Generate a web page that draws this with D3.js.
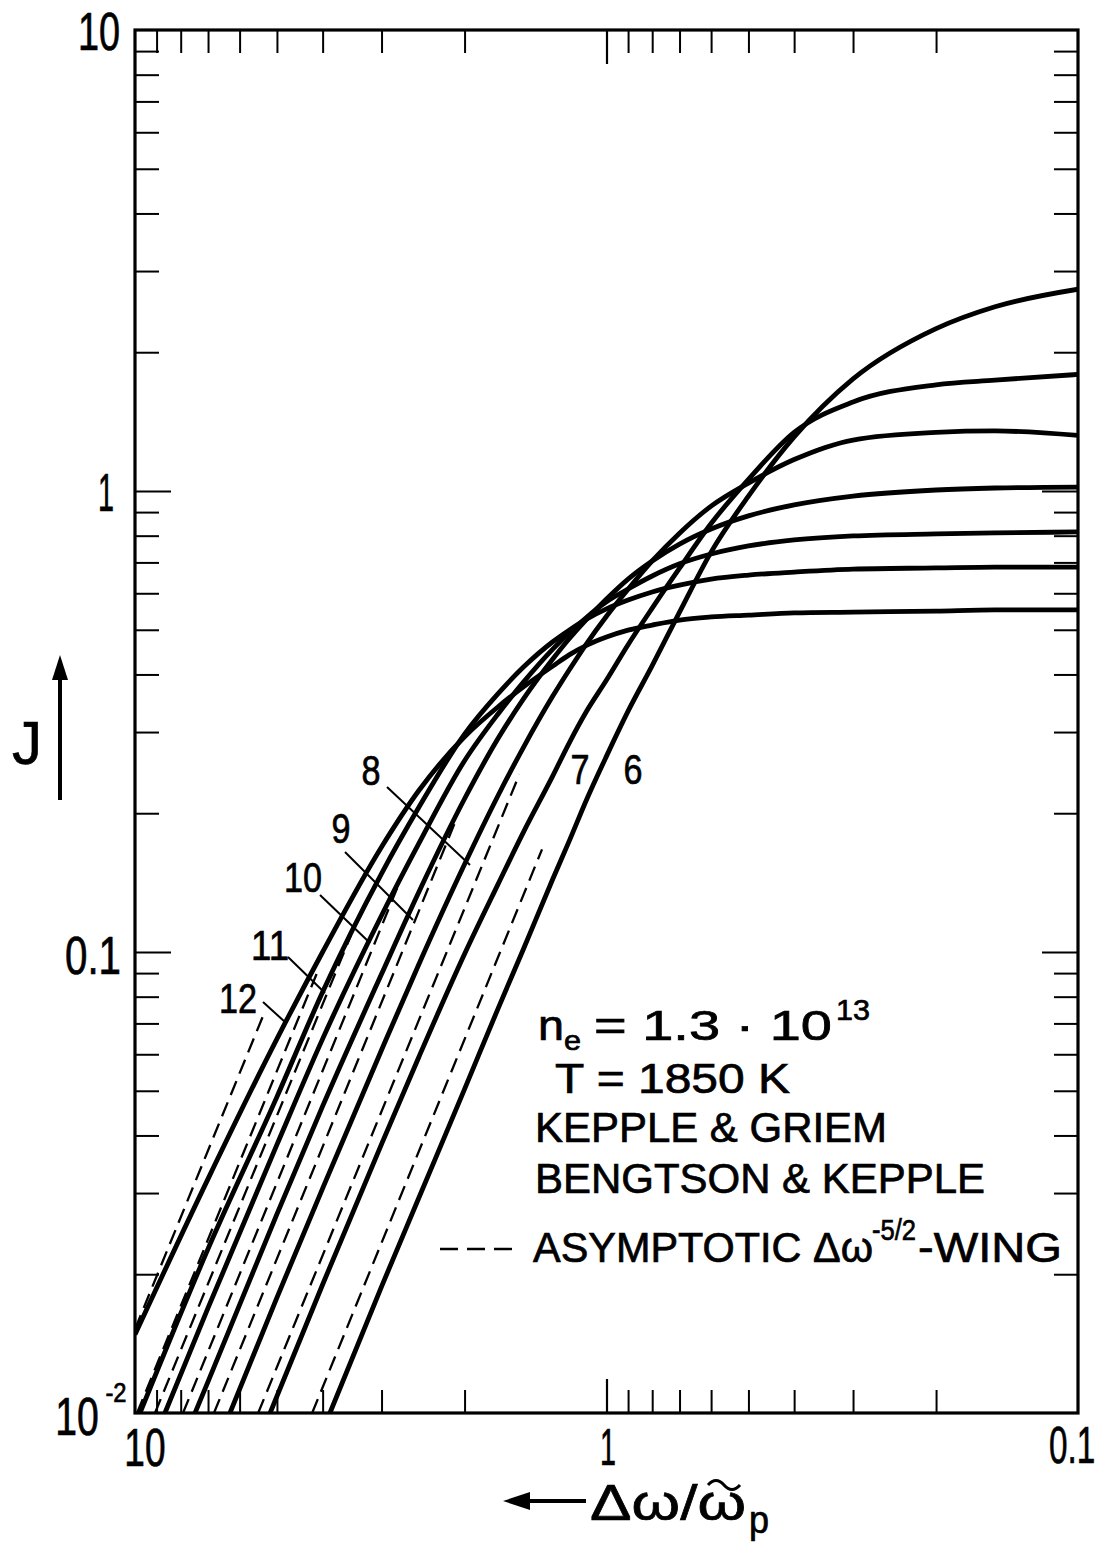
<!DOCTYPE html>
<html><head><meta charset="utf-8">
<script src="https://cdn.jsdelivr.net/npm/d3@7"></script>
<style>
body{margin:0;background:#fff}
text{font-family:"Liberation Sans",Arial,sans-serif;fill:#000;stroke:#000;stroke-width:0.7px}
</style>
</head><body>
<svg id="chart" width="1104" height="1554"></svg>
<script>
// ---- data ----
const curveNames = ["6","7","8","9","10","11","12"];
const dw6  = [3.86,3,2.5,2,1.7,1.5,1.3,1.2,1.1,1.0,0.9,0.8,0.7,0.6,0.5,0.4,0.3,0.2,0.15,0.1];
const J6   = [0.0100,0.0188,0.0293,0.0504,0.0752,0.1015,0.144,0.174,0.215,0.266,0.333,0.418,0.546,0.737,0.975,1.31,1.75,2.25,2.51,2.74];
const dw7  = [5.17,4,3,2.5,2,1.7,1.5,1.3,1.2,1.1,1.0,0.9,0.8,0.7,0.6,0.5,0.4,0.3,0.2,0.15,0.1];
const J7   = [0.0100,0.0190,0.0383,0.0592,0.0990,0.140,0.182,0.241,0.284,0.334,0.389,0.464,0.557,0.680,0.850,1.06,1.34,1.56,1.70,1.74,1.79];
const dw8  = [6.29,5,4,3,2.5,2,1.7,1.5,1.3,1.2,1.1,1.0,0.9,0.8,0.7,0.6,0.5,0.4,0.3,0.2,0.15,0.1];
const J8   = [0.0100,0.0178,0.0307,0.0613,0.0941,0.155,0.218,0.278,0.359,0.409,0.468,0.535,0.612,0.705,0.810,0.927,1.04,1.17,1.29,1.34,1.35,1.32];
const dw9  = [7.46,7,5,4,3,2.5,2,1.7,1.5,1.3,1.2,1.1,1.0,0.9,0.8,0.7,0.6,0.5,0.4,0.3,0.2,0.15,0.1];
const J9   = [0.0100,0.0117,0.0270,0.0463,0.0896,0.135,0.215,0.290,0.354,0.432,0.478,0.528,0.583,0.644,0.705,0.767,0.827,0.883,0.933,0.975,1.005,1.015,1.02];
const dw10 = [8.64,7,5,4,3,2.5,2,1.7,1.5,1.3,1.2,1.1,1.0,0.9,0.8,0.7,0.6,0.5,0.4,0.3,0.2,0.15,0.1];
const J10  = [0.0100,0.0169,0.0382,0.0648,0.120,0.172,0.260,0.328,0.385,0.454,0.492,0.533,0.575,0.613,0.654,0.695,0.730,0.760,0.783,0.799,0.807,0.811,0.815];
const dw11 = [9.76,7,5,4,3,2.5,2,1.7,1.5,1.3,1.2,1.1,1.0,0.9,0.8,0.7,0.6,0.5,0.4,0.3,0.2,0.15,0.1];
const J11  = [0.0100,0.0227,0.0485,0.0819,0.148,0.206,0.297,0.363,0.415,0.471,0.499,0.528,0.555,0.580,0.604,0.625,0.644,0.657,0.667,0.677,0.681,0.684,0.684];
const dw12 = [10,7,5,4,3,2.5,2,1.7,1.5,1.3,1.2,1.1,1.0,0.9,0.8,0.7,0.6,0.5,0.4,0.3,0.2,0.15,0.1];
const J12  = [0.0148,0.0322,0.0648,0.100,0.169,0.224,0.293,0.340,0.376,0.417,0.441,0.463,0.482,0.499,0.512,0.525,0.533,0.538,0.544,0.546,0.549,0.552,0.552];

// asymptotic wings (dashed), start/end points
const asymDw6  = [4.21,1.37],  asymJ6  = [0.01,0.167];
const asymDw7  = [5.48,1.53],  asymJ7  = [0.01,0.243];
const asymDw8  = [6.80,2.10],  asymJ8  = [0.01,0.190];
const asymDw9  = [7.91,2.73],  asymJ9  = [0.01,0.144];
const asymDw10 = [9.07,3.48],  asymJ10 = [0.01,0.109];
const asymDw11 = [9.90,4.12],  asymJ11 = [0.01,0.0896];
const asymDw12 = [10,5.33],    asymJ12 = [0.0152,0.0734];

const xMinorTicks = [9,8,7,6,5,4,3,2,0.9,0.8,0.7,0.6,0.5,0.4,0.3,0.2];
const xMajorTicks = [1];
const yMinorTicks = [9,8,7,6,5,4,3,2,0.9,0.8,0.7,0.6,0.5,0.4,0.3,0.2,0.09,0.08,0.07,0.06,0.05,0.04,0.03,0.02];
const yMajorTicks = [1,0.1];

// ---- layout ----
const L=135, R=1078, T=30, B=1413;
const svg = d3.select("#chart");
const x = d3.scaleLog().domain([10,0.1]).range([L,R]);
const y = d3.scaleLog().domain([0.01,10]).range([B,T]);

svg.append("defs").append("clipPath").attr("id","clip")
  .append("rect").attr("x",L).attr("y",T).attr("width",R-L).attr("height",B-T);

function axisStyle(g, w){ g.select(".domain").remove(); g.selectAll("line").attr("stroke","#000").attr("stroke-width",w); g.selectAll("text").remove(); }

svg.append("g").attr("transform",`translate(${L},0)`).call(d3.axisLeft(y).tickValues(yMinorTicks).tickSize(-24)).call(g=>axisStyle(g,2));
svg.append("g").attr("transform",`translate(${L},0)`).call(d3.axisLeft(y).tickValues(yMajorTicks).tickSize(-36)).call(g=>axisStyle(g,2.2));
svg.append("g").attr("transform",`translate(${R},0)`).call(d3.axisRight(y).tickValues(yMinorTicks).tickSize(-24)).call(g=>axisStyle(g,2));
svg.append("g").attr("transform",`translate(${R},0)`).call(d3.axisRight(y).tickValues(yMajorTicks).tickSize(-36)).call(g=>axisStyle(g,2.2));
svg.append("g").attr("transform",`translate(0,${T})`).call(d3.axisTop(x).tickValues(xMinorTicks).tickSize(-23)).call(g=>axisStyle(g,2));
svg.append("g").attr("transform",`translate(0,${T})`).call(d3.axisTop(x).tickValues(xMajorTicks).tickSize(-34)).call(g=>axisStyle(g,2.2));
svg.append("g").attr("transform",`translate(0,${B})`).call(d3.axisBottom(x).tickValues(xMinorTicks).tickSize(-23)).call(g=>axisStyle(g,2));
svg.append("g").attr("transform",`translate(0,${B})`).call(d3.axisBottom(x).tickValues(xMajorTicks).tickSize(-34)).call(g=>axisStyle(g,2.2));

svg.append("rect").attr("x",L).attr("y",T).attr("width",R-L).attr("height",B-T)
  .attr("fill","none").attr("stroke","#000").attr("stroke-width",3.2);

// curves
const line = d3.line().x(d=>x(d[0])).y(d=>y(d[1])).curve(d3.curveMonotoneX);
const plot = svg.append("g").attr("clip-path","url(#clip)");
const solids = [[dw6,J6],[dw7,J7],[dw8,J8],[dw9,J9],[dw10,J10],[dw11,J11],[dw12,J12]];
const dashes = [[asymDw6,asymJ6],[asymDw7,asymJ7],[asymDw8,asymJ8],[asymDw9,asymJ9],[asymDw10,asymJ10],[asymDw11,asymJ11],[asymDw12,asymJ12]];
dashes.forEach(([a,b])=>{
  plot.append("path").datum(a.map((v,i)=>[v,b[i]])).attr("d",d3.line().x(d=>x(d[0])).y(d=>y(d[1])))
    .attr("fill","none").attr("stroke","#000").attr("stroke-width",2.3).attr("stroke-dasharray","15,8");
});
solids.forEach(([a,b])=>{
  plot.append("path").datum(a.map((v,i)=>[v,b[i]])).attr("d",line)
    .attr("fill","none").attr("stroke","#000").attr("stroke-width",4.8).attr("stroke-linejoin","round");
});

// curve labels with leaders (pixel anchors)
const labels = [
  {t:"8", x:371, y:785, lx1:387, ly1:787, lx2:470, ly2:865},
  {t:"9", x:341, y:843, lx1:345, ly1:852, lx2:413, ly2:920},
  {t:"10",x:303, y:892, lx1:320, ly1:895, lx2:370, ly2:943},
  {t:"11",x:270, y:960, lx1:288, ly1:957, lx2:325, ly2:993},
  {t:"12",x:238, y:1013,lx1:263, ly1:1002,lx2:285, ly2:1022},
  {t:"7", x:580, y:784},
  {t:"6", x:633, y:784}
];
labels.forEach(l=>{
  svg.append("text").attr("x",l.x).attr("y",l.y).attr("text-anchor","middle")
    .attr("font-size",42).attr("textLength",l.t.length*19).attr("lengthAdjust","spacingAndGlyphs").text(l.t);
  if(l.lx1) svg.append("line").attr("x1",l.lx1).attr("y1",l.ly1).attr("x2",l.lx2).attr("y2",l.ly2)
    .attr("stroke","#000").attr("stroke-width",2);
});

// text helpers
function txt(s,x0,y0,fs,anchor,len){ const t=svg.append("text").attr("x",x0).attr("y",y0).attr("font-size",fs).attr("text-anchor",anchor||"start").text(s); if(len) t.attr("textLength",len).attr("lengthAdjust","spacingAndGlyphs"); return t; }
function ntxt(s,x0,y0,fs,anchor,sx){ return svg.append("text").attr("transform",`translate(${x0},${y0}) scale(${sx},1)`).attr("font-size",fs).attr("text-anchor",anchor||"start").text(s); }

// tick labels
txt("10",99,50,53,"middle",42);
txt("1",106,511,53,"middle",16);
txt("0.1",93,974,53,"middle",56);
ntxt("10",77,1435,53,"middle",0.74);
ntxt("-2",116,1402,28,"middle",0.85);
ntxt("10",145,1466,53,"middle",0.7);
txt("1",608,1465,52,"middle",16);
ntxt("0.1",1072,1463,52,"middle",0.64);

// axis titles
txt("J",27,764,62,"middle",30);
svg.append("line").attr("x1",60).attr("y1",800).attr("x2",60).attr("y2",675).attr("stroke","#000").attr("stroke-width",4);
svg.append("path").attr("d","M60,655 L52,680 L68,680 Z").attr("fill","#000");
svg.append("line").attr("x1",520).attr("y1",1501).attr("x2",586).attr("y2",1501).attr("stroke","#000").attr("stroke-width",4);
svg.append("path").attr("d","M503,1501 L530,1492 L530,1510 Z").attr("fill","#000");
txt("Δω/ω",590,1520,50,"start",156);
svg.append("path").attr("d","M708,1485 q8,-9 16,0 t16,0").attr("fill","none").attr("stroke","#000").attr("stroke-width",3);
txt("p",759,1533,38,"middle",20);

// annotation block
txt("n",538,1040,42,"start",26);
txt("e",564,1050,28,"start",17);
txt("= 1.3 · 10",594,1040,42,"start",238);
txt("13",836,1020,30,"start",34);
txt("T = 1850  K",555,1093,42,"start",235);
txt("KEPPLE & GRIEM",535,1142,42,"start",352);
txt("BENGTSON & KEPPLE",535,1193,42,"start",450);
svg.append("line").attr("x1",440).attr("y1",1249).attr("x2",513).attr("y2",1249)
  .attr("stroke","#000").attr("stroke-width",2.4).attr("stroke-dasharray","18,9");
txt("ASYMPTOTIC Δω",533,1262,42,"start",340);
txt("-5/2",872,1240,30,"start",44);
txt("-WING",918,1262,42,"start",144);
</script>
</body></html>
